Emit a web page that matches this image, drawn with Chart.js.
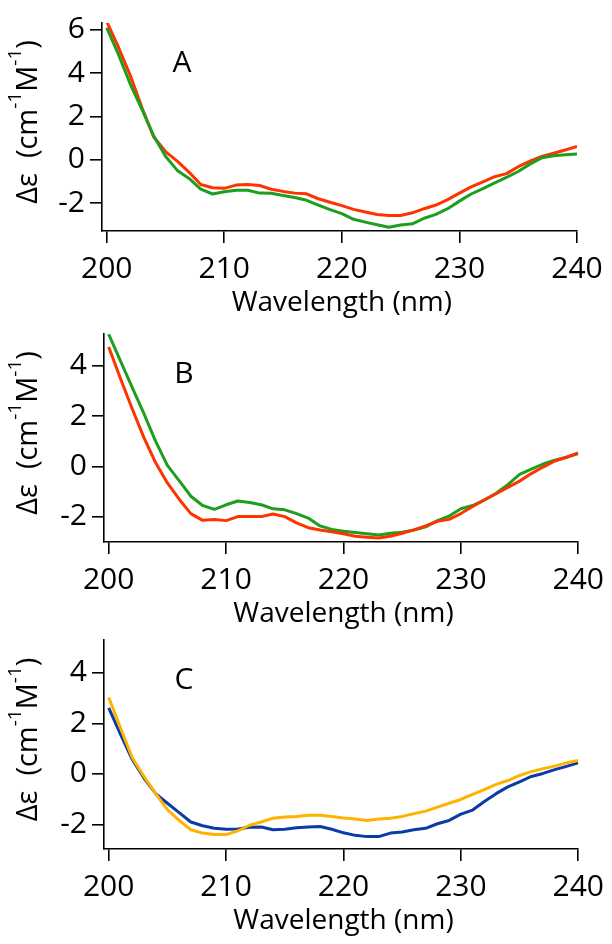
<!DOCTYPE html>
<html>
<head>
<meta charset="utf-8">
<script src="https://cdn.jsdelivr.net/npm/chart.js@4.4.1/dist/chart.umd.min.js"></script>
<style>
  body { margin: 0; background: #fff; width: 612px; height: 944px; overflow: hidden; position: relative; }
  canvas { position: absolute; left: 0; }
</style>
</head>
<body>
<canvas id="panelA" width="612" height="320" style="top:0px"></canvas>
<canvas id="panelB" width="612" height="320" style="top:311px"></canvas>
<canvas id="panelC" width="612" height="327" style="top:617px"></canvas>
<script>
// Wavelength (nm)
const wavelength = [200, 201, 202, 203, 204, 205, 206, 207, 208, 209, 210,
    211, 212, 213, 214, 215, 216, 217, 218, 219, 220,
    221, 222, 223, 224, 225, 226, 227, 228, 229, 230,
    231, 232, 233, 234, 235, 236, 237, 238, 239, 240];

const xTicks = [200, 210, 220, 230, 240];
const yTicksA = [-2, 0, 2, 4, 6];
const yTicksBC = [-2, 0, 2, 4];

// Panel A
const redA = [6.39, 5.2, 3.9, 2.4, 1.05, 0.38, -0.06, -0.57, -1.14, -1.29, -1.32,
    -1.17, -1.14, -1.19, -1.36, -1.46, -1.54, -1.57, -1.80, -1.96, -2.12,
    -2.29, -2.41, -2.53, -2.57, -2.57, -2.45, -2.26, -2.09, -1.84, -1.54,
    -1.25, -1.02, -0.78, -0.64, -0.32, -0.06, 0.16, 0.30, 0.45, 0.62];
const greenA = [6.1, 4.87, 3.5, 2.33, 1.1, 0.16, -0.49, -0.86, -1.36, -1.58, -1.48,
    -1.41, -1.41, -1.54, -1.55, -1.65, -1.74, -1.87, -2.09, -2.30, -2.49,
    -2.75, -2.88, -3.0, -3.12, -3.01, -2.96, -2.70, -2.52, -2.26, -1.91,
    -1.58, -1.33, -1.07, -0.81, -0.54, -0.20, 0.09, 0.19, 0.23, 0.27];

// Panel B
const greenB = [5.26, 4.2, 3.15, 2.1, 1.0, 0.05, -0.56, -1.18, -1.55, -1.70, -1.52,
    -1.37, -1.43, -1.52, -1.68, -1.72, -1.87, -2.05, -2.36, -2.50, -2.57,
    -2.62, -2.67, -2.72, -2.65, -2.61, -2.52, -2.40, -2.15, -1.97, -1.68,
    -1.55, -1.33, -1.06, -0.72, -0.31, -0.10, 0.10, 0.25, 0.37, 0.52];
const redB = [4.75, 3.5, 2.3, 1.15, 0.15, -0.65, -1.3, -1.87, -2.14, -2.11, -2.15,
    -1.99, -1.99, -1.99, -1.89, -1.99, -2.24, -2.43, -2.52, -2.59, -2.67,
    -2.77, -2.81, -2.84, -2.77, -2.65, -2.52, -2.36, -2.18, -2.10, -1.87,
    -1.59, -1.33, -1.08, -0.83, -0.58, -0.28, -0.02, 0.22, 0.37, 0.54];

// Panel C
const orangeC = [3.03, 1.83, 0.65, -0.10, -0.78, -1.41, -1.84, -2.21, -2.34, -2.40, -2.40,
    -2.25, -2.03, -1.90, -1.75, -1.70, -1.68, -1.63, -1.63, -1.68, -1.74,
    -1.78, -1.84, -1.78, -1.75, -1.68, -1.57, -1.47, -1.31, -1.16, -1.01,
    -0.81, -0.62, -0.41, -0.26, -0.06, 0.09, 0.21, 0.31, 0.44, 0.53];
const blueC = [2.61, 1.58, 0.58, -0.16, -0.78, -1.16, -1.53, -1.90, -2.05, -2.15, -2.19,
    -2.18, -2.11, -2.10, -2.21, -2.19, -2.13, -2.10, -2.08, -2.19, -2.33,
    -2.43, -2.48, -2.48, -2.34, -2.30, -2.21, -2.15, -1.97, -1.84, -1.59,
    -1.43, -1.09, -0.78, -0.51, -0.31, -0.10, 0.02, 0.17, 0.30, 0.44];

const FONT = '"Open Sans", "DejaVu Sans", sans-serif';

// Letters, axis titles (with superscripts) drawn on top of each panel
const panelText = {
    id: 'panelText',
    afterDraw(chart, args, opts) {
        const { ctx, chartArea, scales } = chart;
        ctx.save();
        ctx.fillStyle = '#000';
        ctx.textAlign = 'center';
        ctx.textBaseline = 'middle';
        ctx.font = '30px ' + FONT;
        ctx.fillText(opts.letter, chartArea.left + 80, chartArea.top + 40);

        const xc = (scales.x.getPixelForValue(200) + scales.x.getPixelForValue(240)) / 2;
        ctx.font = '28px ' + FONT;
        ctx.fillText('Wavelength (nm)', xc, chartArea.bottom + 72);

        // y title: Δε (cm-1M-1)
        const parts = [
            { t: 'Δε  (cm', size: 29, dy: 0 },
            { t: '-1', size: 19, dy: -16 },
            { t: 'M', size: 29, dy: 0 },
            { t: '-1', size: 19, dy: -16 },
            { t: ')', size: 29, dy: 0 }
        ];
        let total = 0;
        parts.forEach(p => {
            ctx.font = p.size + 'px ' + FONT;
            p.w = ctx.measureText(p.t).width;
            total += p.w;
        });
        ctx.translate(37, (chartArea.top + chartArea.bottom) / 2 - 5);
        ctx.rotate(-Math.PI / 2);
        ctx.textAlign = 'left';
        ctx.textBaseline = 'alphabetic';
        let pos = -total / 2;
        parts.forEach(p => {
            ctx.font = p.size + 'px ' + FONT;
            ctx.fillText(p.t, pos, p.dy);
            pos += p.w;
        });
        ctx.restore();
    }
};

function makePanel(id, cfg) {
    const axisStyle = {
        grid: { display: true, drawOnChartArea: false, drawTicks: true, tickLength: 12, color: '#000', lineWidth: 1.6 },
        border: { display: true, color: '#000', width: 1.6 }
    };
    new Chart(document.getElementById(id), {
        type: 'line',
        data: {
            datasets: cfg.series.map(s => ({
                data: wavelength.map((x, i) => ({ x: x, y: s.values[i] })),
                borderColor: s.color,
                borderWidth: 3,
                borderJoinStyle: 'round',
                pointRadius: 0,
                tension: 0,
                fill: false
            }))
        },
        options: {
            responsive: false,
            animation: false,
            layout: { padding: { top: 10, right: cfg.padRight, bottom: cfg.padBottom, left: 0 } },
            plugins: {
                legend: { display: false },
                tooltip: { enabled: false },
                panelText: { letter: cfg.letter }
            },
            scales: {
                x: {
                    type: 'linear',
                    min: 199.6,
                    max: 240,
                    ...axisStyle,
                    afterBuildTicks: s => { s.ticks = xTicks.map(v => ({ value: v })); },
                    afterFit: s => { s.height = 60; },
                    ticks: { color: '#000', font: { size: 30, family: FONT }, padding: 8, maxRotation: 0 }
                },
                y: {
                    type: 'linear',
                    min: cfg.yMin,
                    max: cfg.yMax,
                    ...axisStyle,
                    afterBuildTicks: s => { s.ticks = cfg.yTicks.map(v => ({ value: v })); },
                    afterFit: s => { s.width = cfg.yWidth; },
                    ticks: { color: '#000', font: { size: 30, family: FONT }, padding: 5 }
                }
            }
        },
        plugins: [panelText]
    });
}

makePanel('panelA', {
    letter: 'A', yMin: -3.29, yMax: 6.32, yTicks: yTicksA, yWidth: 102, padRight: 35, padBottom: 29,
    series: [
        { values: greenA, color: '#1e9e1e' },
        { values: redA, color: '#ff3300' }
    ]
});
makePanel('panelB', {
    letter: 'B', yMin: -3.0, yMax: 5.27, yTicks: yTicksBC, yWidth: 104, padRight: 33, padBottom: 29,
    series: [
        { values: redB, color: '#ff3300' },
        { values: greenB, color: '#1e9e1e' }
    ]
});
makePanel('panelC', {
    letter: 'C', yMin: -2.97, yMax: 5.3, yTicks: yTicksBC, yWidth: 104, padRight: 33, padBottom: 35,
    series: [
        { values: orangeC, color: '#ffb300' },
        { values: blueC, color: '#0b3ba8' }
    ]
});
</script>
</body>
</html>
